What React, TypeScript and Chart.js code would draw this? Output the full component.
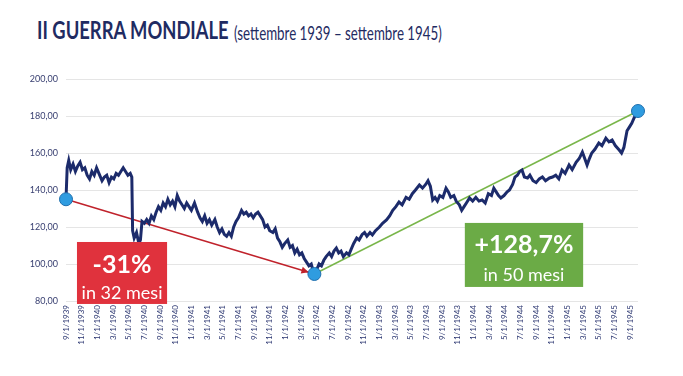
import React, { useEffect, useRef } from 'react';
import { Chart, registerables } from 'chart.js';
Chart.register(...registerables);

const titleMain = 'II GUERRA MONDIALE';
const titleSub = '(settembre 1939 – settembre 1945)';

const tickLabels = [
  '9/1/1939', '11/1/1939', '1/1/1940', '3/1/1940', '5/1/1940', '7/1/1940', '9/1/1940', '11/1/1940',
  '1/1/1941', '3/1/1941', '5/1/1941', '7/1/1941', '9/1/1941', '11/1/1941',
  '1/1/1942', '3/1/1942', '5/1/1942', '7/1/1942', '9/1/1942', '11/1/1942',
  '1/1/1943', '3/1/1943', '5/1/1943', '7/1/1943', '9/1/1943', '11/1/1943',
  '1/1/1944', '3/1/1944', '5/1/1944', '7/1/1944', '9/1/1944', '11/1/1944',
  '1/1/1945', '3/1/1945', '5/1/1945', '7/1/1945', '9/1/1945',
];

// months elapsed since 1 Sept 1939
const monthOffsets = [
  0, 0.15, 0.35, 0.6, 0.9, 1.2, 1.5, 1.8, 2.1, 2.4, 2.7, 3.0, 3.3, 3.6, 3.9, 4.2, 4.6, 4.9, 5.2, 5.5,
  5.8, 6.1, 6.4, 6.7, 7.0, 7.3, 7.6, 7.9, 8.2, 8.4, 8.5, 8.7, 9.0, 9.3, 9.5, 9.7, 10.0, 10.3, 10.6, 10.9,
  11.2, 11.5, 11.8, 12.1, 12.4, 12.7, 13.0, 13.3, 13.6, 13.9, 14.2, 14.5, 14.8, 15.1, 15.4, 15.7, 16.0, 16.4, 16.8, 17.1,
  17.4, 17.7, 18.0, 18.3, 18.6, 19.0, 19.3, 19.6, 19.9, 20.2, 20.5, 20.8, 21.1, 21.4, 21.7, 22.0, 22.4, 22.7, 23.0, 23.3,
  23.6, 23.9, 24.2, 24.5, 24.8, 25.1, 25.4, 25.7, 26.0, 26.4, 26.7, 27.0, 27.3, 27.6, 27.9, 28.3, 28.6, 28.9, 29.2, 29.5,
  29.8, 30.1, 30.4, 30.7, 31.0, 31.3, 31.5, 31.7, 32.0, 32.3, 32.6, 32.9, 33.2, 33.6, 33.9, 34.2, 34.5, 34.8, 35.1, 35.4,
  35.8, 36.1, 36.4, 36.7, 37.1, 37.4, 37.8, 38.1, 38.4, 38.8, 39.1, 39.5, 40.0, 40.4, 40.9, 41.3, 41.7, 42.1, 42.5, 42.9,
  43.4, 43.8, 44.2, 44.6, 45.1, 45.5, 45.9, 46.2, 46.5, 46.8, 47.1, 47.4, 47.7, 48.1, 48.5, 48.8, 49.1, 49.5, 49.8, 50.2,
  50.5, 50.8, 51.1, 51.5, 51.9, 52.3, 52.7, 53.1, 53.5, 53.9, 54.3, 54.6, 54.9, 55.2, 55.5, 55.9, 56.3, 56.6, 57.0, 57.3,
  57.6, 57.9, 58.2, 58.5, 58.9, 59.2, 59.6, 60.0, 60.4, 60.8, 61.2, 61.7, 62.1, 62.5, 62.9, 63.3, 63.7, 64.2, 64.6, 65.1,
  65.5, 65.9, 66.2, 66.5, 66.8, 67.1, 67.5, 68.0, 68.4, 68.9, 69.3, 69.7, 70.1, 70.6, 70.9, 71.2, 71.6, 71.9, 72.2, 72.5,
  72.8, 73.0,
];

const indexValues = [
  135, 152, 156, 151, 154, 150, 153, 155, 151, 152, 148, 146, 150, 148, 152, 149, 145, 147, 148, 144,
  147, 146, 149, 148, 150, 152, 150, 148, 149, 147, 118, 114, 117, 111, 113, 123, 122, 124, 122, 126,
  124, 128, 131, 129, 133, 131, 135, 132, 134, 131, 137, 134, 132, 130, 133, 131, 129, 133, 128, 125,
  123, 126, 122, 124, 121, 124, 120, 117, 119, 116, 115, 117, 115, 120, 123, 125, 129, 127, 128, 126,
  127, 125, 127, 128, 126, 124, 120, 121, 118, 117, 119, 114, 112, 109, 111, 113, 109, 110, 106, 108,
  105, 106, 103, 101, 99, 100, 97, 94.6, 97, 100, 99, 102, 104, 106, 104, 107, 108.6, 106, 107, 104,
  106, 105, 108, 111, 114, 113, 116, 117, 115, 117, 115.7, 118, 120, 122, 123.8, 126, 129, 131, 133.5, 132,
  136, 135, 138, 140, 142.7, 141, 143, 145, 142, 134.6, 136, 134, 137, 136, 141, 139, 136, 137, 134, 132,
  129, 131, 133, 135.7, 134, 136, 134, 134.6, 133, 138, 137, 141, 139, 137, 135.7, 137, 139, 140, 143, 147,
  148, 150, 150.8, 147, 146.5, 148, 145, 144, 146, 147, 145, 146.5, 147, 148, 146, 150.8, 149, 153.5, 151, 155,
  157, 160.5, 157, 153.5, 157, 160, 162, 165.4, 164, 168, 166, 167, 164, 161.6, 160, 163, 172, 174, 176, 179,
  181, 182.7,
];

const dropLines = ['-31%', 'in 32 mesi'];
const riseLines = ['+128,7%', 'in 50 mesi'];

const FONT = 'Lato, "Open Sans", sans-serif';
const NAVY = '#1c2b6b';

export default function App() {
  const ref = useRef<HTMLCanvasElement>(null);

  useEffect(() => {
    const canvas = ref.current;
    if (!canvas) return;
    const points = monthOffsets.map((m, i) => ({ x: m, y: indexValues[i] }));
    let minIdx = 0;
    indexValues.forEach((v, i) => { if (v < indexValues[minIdx]) minIdx = i; });
    const lastIdx = points.length - 1;
    const keyIdx = [0, minIdx, lastIdx];

    const annot = {
      id: 'annot',
      afterDatasetsDraw(chart: any) {
        const { ctx, scales } = chart;
        const xs = scales.x, ys = scales.y;
        const px = (i: number) => ({ x: xs.getPixelForValue(points[i].x), y: ys.getPixelForValue(points[i].y) });
        ctx.save();
        // arrowhead on red line
        const a = px(0), b = px(minIdx);
        const ang = Math.atan2(b.y - a.y, b.x - a.x);
        const tipX = b.x - Math.cos(ang) * 6, tipY = b.y - Math.sin(ang) * 6;
        ctx.fillStyle = '#c0222b';
        ctx.beginPath();
        ctx.moveTo(tipX, tipY);
        ctx.lineTo(tipX - Math.cos(ang - 0.45) * 8, tipY - Math.sin(ang - 0.45) * 8);
        ctx.lineTo(tipX - Math.cos(ang + 0.45) * 8, tipY - Math.sin(ang + 0.45) * 8);
        ctx.closePath();
        ctx.fill();
        // markers
        keyIdx.forEach((i) => {
          const p = px(i);
          ctx.beginPath();
          ctx.arc(p.x, p.y, 6.5, 0, Math.PI * 2);
          ctx.fillStyle = '#2f9ce0';
          ctx.fill();
          ctx.lineWidth = 1;
          ctx.strokeStyle = '#1f6fae';
          ctx.stroke();
        });
        // boxes
        const box = (x0: number, x1: number, y0: number, y1: number, color: string, lines: string[], o1: number, o2: number) => {
          const l = xs.getPixelForValue(x0), r = xs.getPixelForValue(x1);
          const t = ys.getPixelForValue(y0), btm = ys.getPixelForValue(y1);
          ctx.fillStyle = color;
          ctx.fillRect(l, t, r - l, btm - t);
          ctx.fillStyle = '#ffffff';
          ctx.textAlign = 'center';
          ctx.textBaseline = 'middle';
          ctx.font = `bold 25px ${FONT}`;
          ctx.fillText(lines[0], (l + r) / 2, t + o1);
          ctx.font = `18px ${FONT}`;
          ctx.fillText(lines[1], (l + r) / 2, t + o2);
        };
        box(1.4, 12.9, 111.9, 78.4, '#e0323d', dropLines, 23, 51);
        box(50.9, 66.0, 122.2, 87.6, '#6bab46', riseLines, 22, 52);
        ctx.restore();
      },
    };

    const chart = new Chart(canvas, {
      type: 'line',
      data: {
        datasets: [
          {
            data: points,
            borderColor: NAVY,
            borderWidth: 3,
            pointRadius: 0,
            tension: 0,
            order: 0,
            clip: false,
          },
          {
            data: [points[0], points[minIdx]],
            borderColor: '#c0222b',
            borderWidth: 1.5,
            pointRadius: 0,
            order: 1,
            clip: false,
          },
          {
            data: [points[minIdx], points[lastIdx]],
            borderColor: '#79b64a',
            borderWidth: 1.5,
            pointRadius: 0,
            order: 1,
            clip: false,
          },
        ] as any,
      },
      options: {
        animation: false,
        responsive: false,
        layout: { padding: { left: 0, right: 45, top: 79, bottom: 0 } },
        plugins: { legend: { display: false }, tooltip: { enabled: false }, title: { display: false } },
        scales: {
          x: {
            type: 'linear',
            min: 0,
            max: 73,
            grid: { display: false, drawTicks: false },
            border: { display: false },
            afterFit: (s: any) => { s.height = 75; },
            afterBuildTicks: (s: any) => { s.ticks = tickLabels.map((_, i) => ({ value: i * 2 })); },
            ticks: {
              autoSkip: false,
              minRotation: 90,
              maxRotation: 90,
              padding: 4,
              color: '#2a3570',
              font: { family: FONT, size: 8 },
              callback: (v: any) => tickLabels[Math.round(Number(v) / 2)] ?? '',
            },
          },
          y: {
            min: 80,
            max: 200,
            grid: { color: '#e5e5e5', lineWidth: 1, drawTicks: false },
            border: { display: false },
            afterFit: (s: any) => { s.width = 66; },
            ticks: {
              stepSize: 20,
              padding: 8,
              color: '#3a4172',
              font: { family: FONT, size: 9 },
              callback: (v: any) => Number(v).toFixed(2).replace('.', ','),
            },
          },
        },
      },
      plugins: [annot],
    });
    return () => chart.destroy();
  }, []);

  return (
    <div style={{ position: 'fixed', left: 0, top: 0, width: 683, height: 376, background: '#ffffff', overflow: 'hidden' }}>
      <div
        style={{
          position: 'absolute', left: 37, top: 18, whiteSpace: 'nowrap', color: '#1f2b62',
          fontFamily: FONT, lineHeight: 1, fontSize: 24, fontWeight: 700,
          transform: 'scaleX(0.765)', transformOrigin: '0 0',
        }}
      >
        {titleMain}
      </div>
      <div
        style={{
          position: 'absolute', left: 234, top: 24, whiteSpace: 'nowrap', color: '#1f2b62',
          fontFamily: FONT, lineHeight: 1, fontSize: 18.5, fontWeight: 400,
          transform: 'scaleX(0.72)', transformOrigin: '0 0',
        }}
      >
        {titleSub}
      </div>
      <canvas ref={ref} width={683} height={376} style={{ position: 'absolute', left: 0, top: 0, width: 683, height: 376 }} />
    </div>
  );
}
